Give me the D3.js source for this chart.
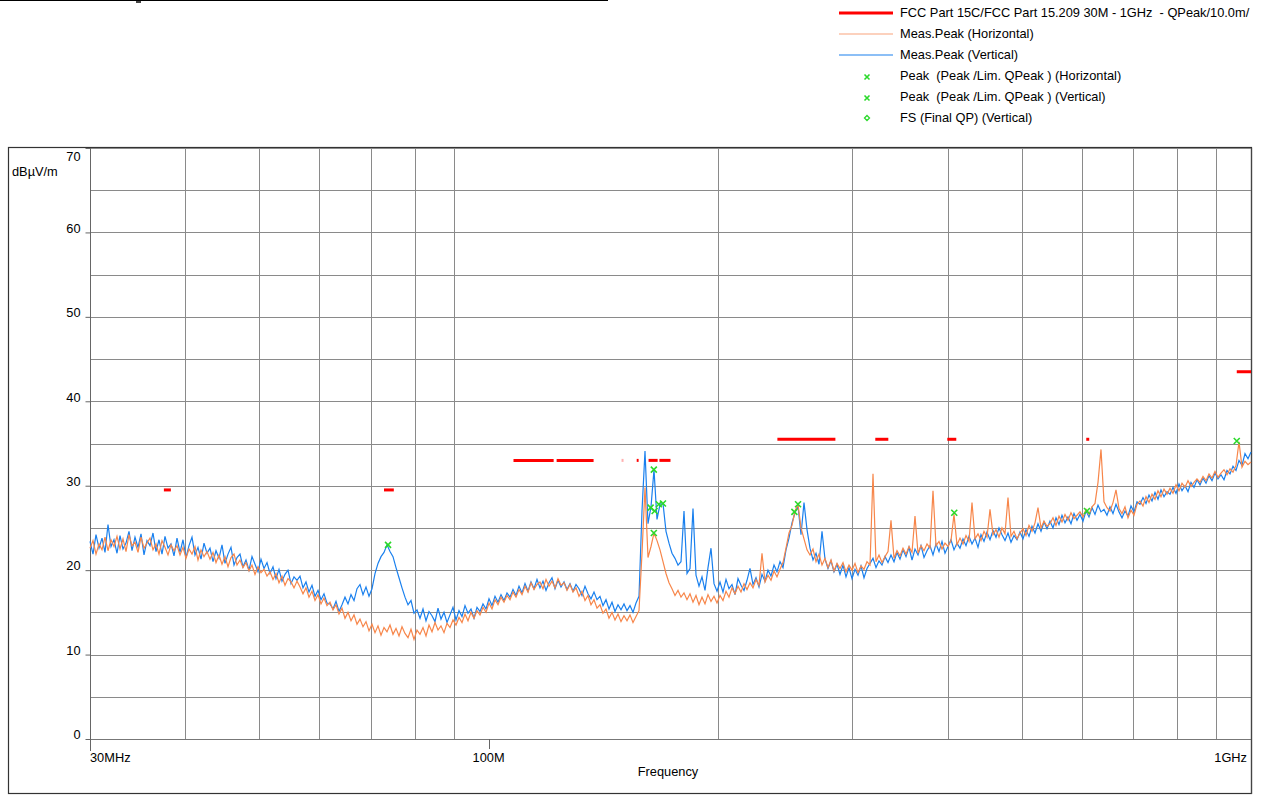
<!DOCTYPE html>
<html><head><meta charset="utf-8">
<script src="https://cdn.jsdelivr.net/npm/d3@7"></script>
<style>
body{margin:0;background:#fff;}
svg{display:block;font-family:"Liberation Sans",Arial,Helvetica,sans-serif;}
</style>
</head><body>
<svg id="chart" width="1263" height="795"></svg>
<script>
// ---------- DATA ----------
const sweepStartMHz = 30, sweepStopMHz = 1000;

// Meas.Peak (Vertical), dBµV/m, sweep points log-spaced from 30 MHz to 1 GHz
const measPeakVertical = [
23.4,21.9,24.2,22.6,23.8,22.1,25.4,22.8,23.6,22.0,
24.1,22.5,23.2,24.6,22.3,23.9,22.7,24.3,21.8,23.5,
22.9,24.4,22.2,23.6,21.9,24.0,22.6,23.1,21.7,23.8,
22.1,23.6,21.5,22.9,23.9,21.8,22.7,21.3,23.2,22.0,
22.6,21.0,22.3,21.4,23.0,20.8,21.9,22.7,20.6,21.5,
21.9,20.4,21.2,20.0,21.6,20.7,19.8,21.3,20.2,20.9,
19.6,20.4,19.0,20.1,18.7,19.5,20.0,18.4,19.2,18.8,
19.3,17.9,18.6,17.4,18.2,16.9,17.6,16.5,17.2,16.1,
16.0,15.4,16.3,15.1,15.9,16.8,16.0,17.1,16.4,17.8,
18.3,17.1,18.0,16.9,17.8,19.6,20.8,21.6,22.1,23.0,
22.2,21.6,20.3,19.1,17.9,16.8,15.9,16.4,14.9,15.3,
14.3,15.4,14.0,15.1,14.6,13.9,15.5,14.2,15.0,13.8,
14.7,15.6,14.1,15.2,14.5,15.8,14.9,15.4,14.3,15.6,
15.1,16.0,15.4,16.6,15.8,16.9,16.2,17.1,16.4,17.3,
16.8,17.7,17.0,18.1,17.3,18.4,17.5,18.6,17.8,18.9,
17.9,18.7,17.6,18.5,19.1,17.8,18.8,18.0,18.6,17.7,
18.4,17.5,18.3,17.8,17.0,18.1,17.2,16.6,17.4,16.5,
16.9,15.8,16.5,15.4,16.2,15.1,15.9,15.3,16.0,15.2,
15.8,15.0,16.1,16.9,27.0,34.1,25.5,27.5,31.9,26.0,
27.8,27.9,24.6,23.2,22.0,21.4,20.6,21.0,27.0,19.6,
20.2,27.3,19.4,18.1,19.2,17.6,20.3,22.6,18.4,17.5,
18.6,17.4,18.9,17.8,18.3,17.1,19.0,18.2,17.6,18.8,
20.2,18.3,19.1,18.0,19.5,18.7,20.0,19.3,20.6,19.8,
21.0,20.3,22.4,23.8,25.6,26.8,27.6,24.2,28.0,24.8,
22.6,21.2,22.0,20.7,24.6,21.3,20.2,21.1,19.8,20.7,
19.5,20.6,19.2,20.3,19.0,20.1,19.4,20.5,19.1,20.2,
20.8,21.4,20.3,21.1,20.6,21.6,20.9,21.8,21.0,22.1,
21.3,22.4,21.6,22.7,21.2,22.5,21.8,22.9,21.5,22.3,
22.9,21.8,23.1,22.2,23.4,22.0,22.8,23.6,22.4,23.2,
22.6,23.7,22.9,24.0,23.1,23.8,22.7,24.2,23.4,24.5,
23.6,24.7,23.9,25.0,24.2,23.5,24.4,23.3,24.1,23.6,
24.5,23.7,24.8,24.0,25.2,24.4,25.5,24.6,25.7,24.9,
25.8,25.0,26.2,25.4,26.5,25.6,26.3,25.5,26.7,25.9,
26.6,25.8,27.0,26.3,27.4,26.6,27.7,26.9,27.2,26.5,
27.5,26.7,27.8,26.9,26.2,27.0,26.4,27.6,26.9,28.1,
27.8,28.6,27.9,28.9,28.2,29.2,28.4,29.5,28.7,29.3,
29.0,29.8,29.1,30.2,29.4,30.0,29.3,30.4,29.8,30.7,
30.1,30.9,30.3,31.2,30.6,31.5,30.8,31.3,30.7,31.8,
31.4,32.3,31.8,33.0,32.4,33.8,33.2,34.0
];

// Meas.Peak (Horizontal)
const measPeakHorizontal = [
22.6,23.5,21.9,23.1,22.4,23.9,22.3,23.6,22.8,24.0,
22.5,23.7,22.2,24.2,22.9,23.3,22.1,23.9,22.6,23.2,
23.8,22.4,23.1,21.9,23.5,22.7,21.8,23.0,22.3,22.9,
21.8,22.7,21.4,22.5,21.9,22.8,21.2,22.4,21.6,22.2,
21.3,22.1,20.9,21.8,20.7,21.6,20.4,21.5,21.9,20.6,
21.2,20.3,20.9,19.9,20.6,19.5,20.4,19.7,20.1,19.3,
19.8,18.9,19.6,18.5,19.3,18.2,19.0,18.6,17.9,18.7,
18.0,17.2,17.9,16.8,17.5,16.4,17.1,16.0,16.7,15.8,
16.2,15.3,15.9,14.8,15.5,14.3,15.0,14.0,14.7,13.6,
14.2,13.3,13.9,12.8,13.6,12.6,13.4,12.3,13.2,12.7,
13.5,12.4,13.1,12.2,13.3,12.5,12.0,13.0,11.8,12.9,
12.4,13.2,12.2,13.5,12.7,13.8,12.9,13.4,12.6,13.7,
13.2,14.1,13.5,14.4,13.8,14.8,14.0,15.0,14.3,15.2,
14.7,15.6,15.0,16.1,15.4,16.5,15.9,16.8,16.2,17.0,
16.5,17.4,16.8,17.7,17.1,18.1,17.4,18.5,17.7,18.3,
18.6,17.8,18.9,18.1,18.7,17.9,19.0,18.2,18.5,17.6,
18.3,17.4,17.9,16.9,17.5,16.4,17.0,15.9,16.5,15.5,
15.9,14.9,15.4,14.3,15.0,14.1,14.8,13.9,14.6,14.0,
14.7,13.8,14.5,15.2,22.0,29.8,21.5,22.8,24.4,23.5,
22.4,21.0,19.6,18.5,17.8,17.0,17.6,16.8,17.3,16.5,
17.2,16.2,17.0,15.9,16.8,16.0,17.1,16.3,16.9,16.1,
17.0,16.4,17.5,16.8,17.9,17.2,18.1,17.4,18.4,17.7,
18.5,17.9,18.9,18.2,22.0,18.6,19.4,18.8,19.9,19.2,
20.1,20.9,22.6,24.4,25.3,27.0,27.8,25.0,23.7,22.4,
21.8,22.5,21.0,21.9,20.6,21.4,20.3,21.2,19.9,20.8,
20.2,20.9,19.8,20.6,20.0,20.8,19.7,20.5,20.1,21.0,
20.6,31.4,21.0,21.8,20.9,21.6,22.2,25.9,21.4,22.3,
21.7,22.6,21.9,22.8,22.1,26.4,22.0,22.9,22.3,23.1,
22.6,29.4,22.9,23.4,22.5,23.2,22.8,23.5,26.6,23.0,
23.8,23.1,24.1,23.4,28.0,23.7,24.3,23.5,24.6,23.9,
27.2,24.2,24.8,23.9,25.0,24.3,28.6,24.0,24.6,23.7,
24.4,24.9,24.1,25.3,24.6,25.6,27.4,25.0,25.8,25.2,
25.5,26.2,25.3,26.4,25.7,26.6,25.9,26.8,26.1,26.5,
26.9,26.3,27.2,26.6,27.5,27.9,30.4,34.3,28.1,27.4,
27.0,28.0,29.5,27.3,26.7,27.5,26.2,27.1,26.5,27.8,
28.2,27.6,28.7,28.0,29.0,28.4,29.4,28.7,29.6,29.0,
29.7,29.1,30.1,29.4,30.3,29.8,30.6,29.9,30.4,30.8,
30.4,31.1,30.6,31.4,30.9,31.7,31.0,31.5,31.9,31.3,
32.0,31.6,32.4,35.2,32.2,32.9,32.5,32.8
];

// Limit line pieces as drawn: [startMHz, stopMHz, dBµV/m]
const limitSegments = [
[37.5,38.3,29.5],[72.9,75.1,29.5],
[107.8,121.7,33.0],[122.8,137.3,33.0],[156.4,157.3,33.0],[162.1,166.6,33.0],[167.5,173.2,33.0],
[239.2,285.0,35.5],[321.5,334.4,35.5],[399.6,410.6,35.5],[608.0,613.5,35.5],
[957.9,1000,43.5]
];
const limitFaint = [[149.4,150.3,33.0]];

// Peak markers [MHz, dBµV/m]
const peaksHorizontal = [[164.7,24.4],[251.8,26.9],[408.1,26.8],[609.3,27.0],[957.9,35.3]];
const peaksVertical = [[73.8,23.0],[164.7,31.9],[163.1,27.4],[165.1,27.0],[167.2,27.8],[169.3,27.9],[254.6,27.8]];

const yTickValues = [0,10,20,30,40,50,60,70];
const yGridValues = [5,10,15,20,25,30,35,40,45,50,55,60,65];
const xGridValues = [40,50,60,70,80,90,200,300,400,500,600,700,800,900];
const xTickLabels = [[30,"30MHz"],[100,"100M"],[1000,"1GHz"]];

const legendLabels = [
"FCC Part 15C/FCC Part 15.209 30M - 1GHz  - QPeak/10.0m/",
"Meas.Peak (Horizontal)",
"Meas.Peak (Vertical)",
"Peak  (Peak /Lim. QPeak ) (Horizontal)",
"Peak  (Peak /Lim. QPeak ) (Vertical)",
"FS (Final QP) (Vertical)"
];

// ---------- DRAW ----------
const FS = 12.8;
const svg = d3.select("#chart");
const C = {red:"#ff0000", orange:"#f7864a", blue:"#1a80ee", green:"#2bd92b", grid:"#8a8a8a"};

const x = d3.scaleLog().domain([30,1000]).range([90,1251]);
const y = d3.scaleLinear().domain([0,70]).range([739,148]);

// top cut-off rule
svg.append("line").attr("x1",0).attr("x2",608).attr("y1",0.5).attr("y2",0.5).attr("stroke","#000").attr("stroke-width",1);
svg.append("rect").attr("x",136).attr("y",1).attr("width",5).attr("height",2).attr("fill","#444");

// outer frame
svg.append("rect").attr("x",8.5).attr("y",147.5).attr("width",1243).attr("height",646)
  .attr("fill","none").attr("stroke","#333").attr("stroke-width",1.2);

// grid
const g = svg.append("g");
g.selectAll(".hg").data(yGridValues).join("line")
  .attr("x1",90).attr("x2",1251).attr("y1",d=>Math.round(y(d))+0.5).attr("y2",d=>Math.round(y(d))+0.5)
  .attr("stroke",C.grid).attr("stroke-width",1);
g.selectAll(".vg").data(xGridValues).join("line")
  .attr("x1",d=>Math.round(x(d))+0.5).attr("x2",d=>Math.round(x(d))+0.5).attr("y1",148).attr("y2",739)
  .attr("stroke",C.grid).attr("stroke-width",1);
svg.append("line").attr("x1",90).attr("x2",1251).attr("y1",148.5).attr("y2",148.5).attr("stroke",C.grid);
svg.append("line").attr("x1",90).attr("x2",1251).attr("y1",739.5).attr("y2",739.5).attr("stroke","#777");
svg.append("line").attr("x1",1251.5).attr("x2",1251.5).attr("y1",148).attr("y2",794).attr("stroke","#444").attr("stroke-width",1.2);

// y axis
const yAxis = svg.append("g").attr("transform","translate(90.5,0)")
  .call(d3.axisLeft(y).tickValues(yTickValues).tickSize(5).tickSizeOuter(0).tickFormat(d3.format("d")));
yAxis.select(".domain").attr("stroke","#666").attr("d","M0,148V745");
yAxis.selectAll(".tick line").attr("stroke","#666");
yAxis.selectAll(".tick text").attr("font-size",FS).attr("fill","#000").attr("font-family",'"Liberation Sans",Arial,sans-serif')
  .attr("x",-10).attr("dy",d=> d===70 ? "0.95em" : "-0.02em");
svg.append("text").attr("x",12).attr("y",176).attr("font-size",FS).text("dBµV/m");

// x axis
const xAxis = svg.append("g").attr("transform","translate(0,739.5)")
  .call(d3.axisBottom(x).tickValues(xTickLabels.map(d=>d[0])).tickSize(0).tickFormat(""));
xAxis.select(".domain").remove();
svg.selectAll(".xt").data(xTickLabels.slice(0,2)).join("line")
  .attr("x1",d=>Math.round(x(d[0]))+0.5).attr("x2",d=>Math.round(x(d[0]))+0.5)
  .attr("y1",739).attr("y2",(d,i)=> i===0?751:749).attr("stroke","#666");
svg.selectAll(".xl").data(xTickLabels).join("text")
  .attr("x",(d,i)=> i===2 ? x(d[0])-4 : x(d[0]))
  .attr("y",762).attr("font-size",FS)
  .attr("text-anchor",(d,i)=> i===0?"start": i===1?"middle":"end")
  .text(d=>d[1]);
svg.append("text").attr("x",668).attr("y",776).attr("font-size",FS).attr("text-anchor","middle").text("Frequency");

// data lines
const n = measPeakVertical.length;
const freqAt = i => sweepStartMHz*Math.pow(sweepStopMHz/sweepStartMHz, i/(n-1));
const line = d3.line().x((d,i)=>x(freqAt(i))).y(d=>y(d));
const plot = svg.append("g");
plot.append("path").attr("d",line(measPeakVertical)).attr("fill","none").attr("stroke",C.blue).attr("stroke-width",1.2);
plot.append("path").attr("d",line(measPeakHorizontal)).attr("fill","none").attr("stroke",C.orange).attr("stroke-width",1.2);

// limit segments
plot.selectAll(".lim").data(limitSegments).join("line")
  .attr("x1",d=>x(d[0])).attr("x2",d=>x(d[1])).attr("y1",d=>y(d[2])).attr("y2",d=>y(d[2]))
  .attr("stroke",C.red).attr("stroke-width",3);
plot.selectAll(".limf").data(limitFaint).join("line")
  .attr("x1",d=>x(d[0])).attr("x2",d=>x(d[1])).attr("y1",d=>y(d[2])).attr("y2",d=>y(d[2]))
  .attr("stroke","#ffb0b0").attr("stroke-width",3);

// peak markers
function cross(sel, cx, cy, s){
  sel.append("path").attr("d",`M${cx-s},${cy-s}L${cx+s},${cy+s}M${cx-s},${cy+s}L${cx+s},${cy-s}`)
    .attr("stroke",C.green).attr("stroke-width",1.6).attr("fill","none");
}
[...peaksHorizontal,...peaksVertical].forEach(p=>cross(plot, x(p[0]), y(p[1]), 3));

// legend
const leg = svg.append("g");
const rowY = [13,34,55,76,97,118];
leg.append("line").attr("x1",839).attr("x2",893).attr("y1",rowY[0]).attr("y2",rowY[0]).attr("stroke",C.red).attr("stroke-width",3);
leg.append("line").attr("x1",839).attr("x2",893).attr("y1",rowY[1]).attr("y2",rowY[1]).attr("stroke","#f9a47c").attr("stroke-width",1.2);
leg.append("line").attr("x1",839).attr("x2",893).attr("y1",rowY[2]).attr("y2",rowY[2]).attr("stroke",C.blue).attr("stroke-width",1.2);
cross(leg, 867, rowY[3]+1, 2.5);
cross(leg, 867, rowY[4]+1, 2.5);
leg.append("path").attr("d",`M867,${rowY[5]-2.5}L869.5,${rowY[5]}L867,${rowY[5]+2.5}L864.5,${rowY[5]}Z`)
  .attr("fill","none").attr("stroke",C.green).attr("stroke-width",1.3);
leg.selectAll(".lt").data(legendLabels).join("text")
  .attr("x",900).attr("y",(d,i)=>rowY[i]+4).attr("font-size",FS).attr("fill","#000")
  .attr("xml:space","preserve").style("white-space","pre").text(d=>d);
</script>
</body></html>
